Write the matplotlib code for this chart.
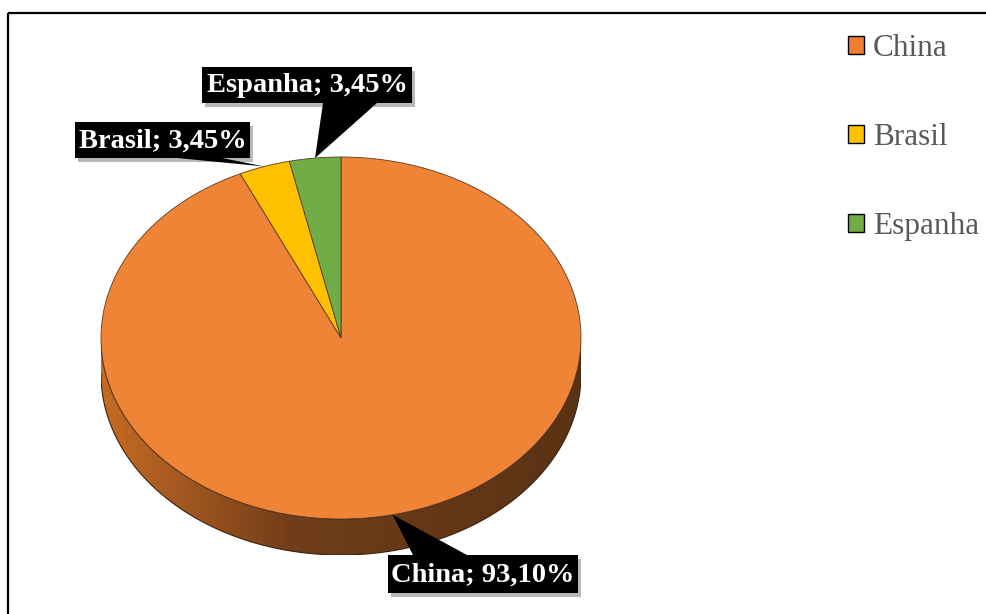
import numpy as np
import matplotlib.pyplot as plt
from matplotlib.patches import Rectangle, Polygon, Patch, PathPatch
from matplotlib.path import Path

# dados: origem dos registros por país
paises = ["China", "Brasil", "Espanha"]
percentuais = [93.10, 3.45, 3.45]
cores = ["#ED7D31", "#FFC000", "#70AD47"]

W, H = 987, 614
fig = plt.figure(figsize=(W / 100, H / 100), dpi=100)

# camada de sobreposição em pixels (y para baixo)
ov = fig.add_axes([0, 0, 1, 1], zorder=3)
ov.set_xlim(0, W)
ov.set_ylim(H, 0)
ov.axis("off")
ov.patch.set_alpha(0)

# moldura do gráfico
ov.add_patch(Rectangle((8, 13), 1200, 900, fill=False, ec="black", lw=1.6))

# pizza 3D: face superior elíptica + lateral com profundidade
px_l, px_r, px_t, px_b = 101, 581, 157, 519
prof_px = 36
d = 2 * prof_px / (px_b - px_t)
ax = fig.add_axes([px_l / W, (H - px_b - prof_px) / H,
                   (px_r - px_l) / W, (px_b - px_t + prof_px) / H], zorder=2)

# lateral com gradiente
t = np.linspace(np.pi, 2 * np.pi, 200)
xs = np.concatenate([np.cos(t), np.cos(t[::-1])])
ys = np.concatenate([np.sin(t), np.sin(t[::-1]) - d])
lado = Path(np.column_stack([xs, ys]), closed=False)
lado_patch = PathPatch(lado, fc="none", ec="#3a2210", lw=0.8, zorder=1)
ax.add_patch(lado_patch)
gx = np.linspace(-1, 1, 300)
c_esq = np.array([0.78, 0.42, 0.14])
c_meio = np.array([0.44, 0.24, 0.10])
c_dir = np.array([0.35, 0.20, 0.08])
grad = np.where(gx[:, None] < -0.2,
                c_esq + (c_meio - c_esq) * ((gx[:, None] + 1) / 0.8),
                c_meio + (c_dir - c_meio) * ((gx[:, None] + 0.2) / 1.2))
img = ax.imshow(grad[None, :, :], extent=(-1, 1, -1 - d, 0), aspect="auto",
                zorder=0.5)
img.set_clip_path(lado_patch)

cunhas, _ = ax.pie(percentuais, colors=["#EF8336", cores[1], cores[2]],
                   startangle=90, counterclock=False, radius=1,
                   wedgeprops=dict(edgecolor="#5a3a24", linewidth=0.6))
for w in cunhas:
    w.set_zorder(2)
ax.set_aspect("auto")
ax.set_xlim(-1, 1)
ax.set_ylim(-1 - d, 1)
ax.axis("off")

# rótulos com caixa preta e seta
caixas = {  # x0, y0, x1, y1 e base da seta
    "China": ((388, 555, 578, 593), (413, 555), (467, 555)),
    "Brasil": ((75, 122, 250, 158), (177, 158), (222, 158)),
    "Espanha": ((202, 67, 412, 103), (323, 103), (377, 103)),
}
ang = 90 - 360 * (np.cumsum(percentuais) - np.array(percentuais) / 2) / 100
for nome, p, a in zip(paises, percentuais, ang):
    ponta_d = (np.cos(np.radians(a)), np.sin(np.radians(a)))
    ponta = ov.transData.inverted().transform(ax.transData.transform(ponta_d))
    (x0, y0, x1, y1), b1, b2 = caixas[nome]
    ov.add_patch(Rectangle((x0 + 3, y0 + 4), x1 - x0, y1 - y0,
                           color="#7f7f7f", alpha=0.55, lw=0, zorder=1))
    ov.add_patch(Polygon([ponta, b1, b2], closed=True, color="black",
                         lw=0, zorder=2))
    ov.add_patch(Rectangle((x0, y0), x1 - x0, y1 - y0, color="black",
                           lw=0, zorder=2))
    rot = f"{nome}; {p:.2f}".replace(".", ",") + "%"
    ov.text((x0 + x1) / 2, (y0 + y1) / 2 + 1, rot, color="white",
            fontsize=20.5, fontweight="bold", family="Liberation Serif",
            ha="center", va="center", zorder=3)

# legenda
alcas = [Patch(fc=c, ec="black", lw=1.0) for c in cores]
fig.legend(alcas, paises, loc="upper left", bbox_to_anchor=(832 / W, 1 - 18 / H),
           frameon=False, prop=dict(family="Liberation Serif", size=22.5),
           labelcolor="#595959", handlelength=0.51, handleheight=0.51,
           handletextpad=0.3, labelspacing=1.93, borderpad=0)

fig.savefig("out.png", dpi=100)
